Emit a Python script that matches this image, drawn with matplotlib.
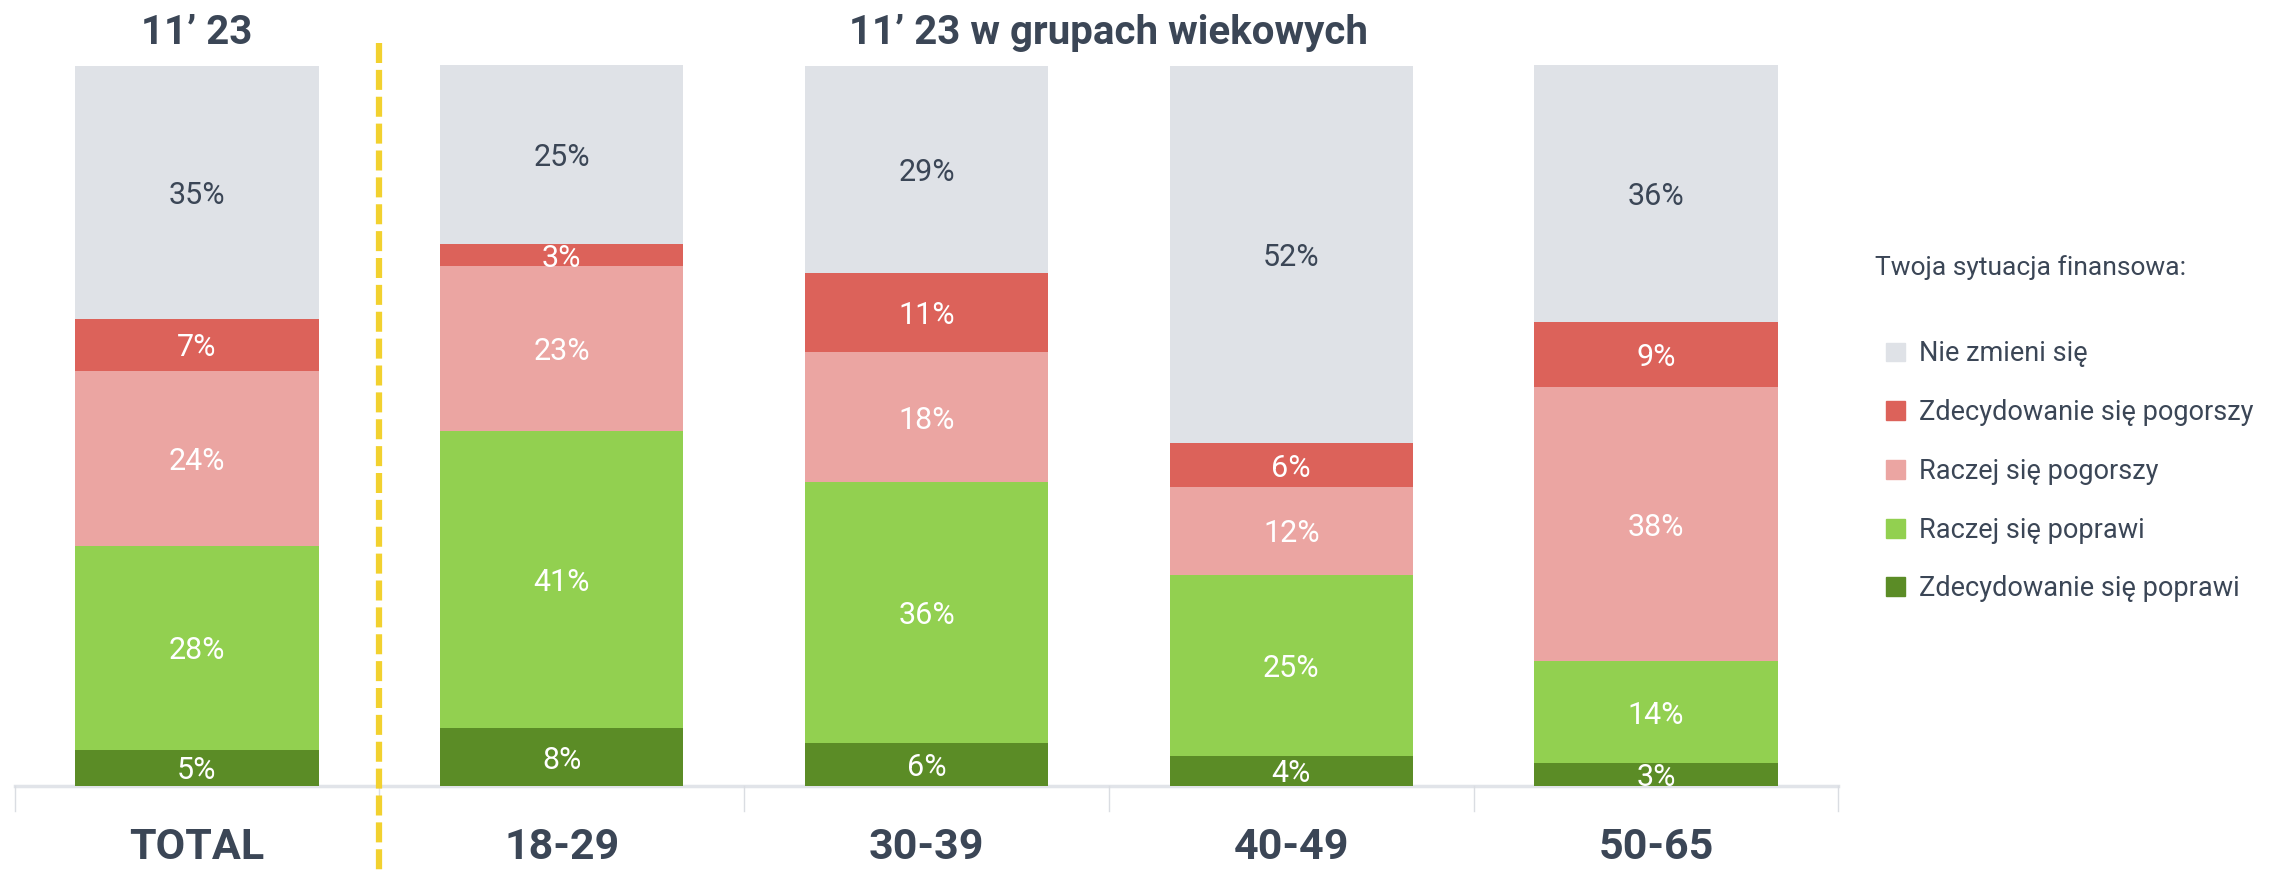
import matplotlib.pyplot as plt
import numpy as np
from matplotlib.patches import Patch

plt.rcParams['font.family'] = ['Roboto', 'DejaVu Sans']

# dane (w %)
kategorie = ['TOTAL', '18-29', '30-39', '40-49', '50-65']
zdec_poprawi = [5.0, 8.0, 6.0, 4.2, 3.2]
raczej_poprawi = [28.3, 41.2, 36.1, 25.1, 14.1]
raczej_pogorszy = [24.3, 22.9, 18.1, 12.2, 38.0]
zdec_pogorszy = [7.2, 3.0, 11.0, 6.0, 9.0]
nie_zmieni = [35.1, 24.9, 28.7, 52.4, 35.7]

serie = [zdec_poprawi, raczej_poprawi, raczej_pogorszy, zdec_pogorszy, nie_zmieni]
nazwy = ['Zdecydowanie się poprawi', 'Raczej się poprawi', 'Raczej się pogorszy',
         'Zdecydowanie się pogorszy', 'Nie zmieni się']
kolory = ['#5B8C26', '#92D050', '#EBA5A2', '#DC625A', '#DFE2E7']
kolory_tekstu = ['white', 'white', 'white', 'white', '#3B4656']

ciemny = '#3B4656'

fig = plt.figure(figsize=(22.7, 8.73), dpi=100)
ax = fig.add_axes([0.0064, 0.0997, 0.8035, 0.826])

x = np.arange(len(kategorie))
dol = np.zeros(len(kategorie))
for vals, kol, kt, nazwa in zip(serie, kolory, kolory_tekstu, nazwy):
    bars = ax.bar(x, vals, width=0.667, bottom=dol, color=kol, label=nazwa, zorder=2)
    for rect, v, b in zip(bars, vals, dol):
        ax.text(rect.get_x() + rect.get_width() / 2, b + v / 2, '%d%%' % round(v),
                ha='center', va='center_baseline', fontsize=22, color=kt, zorder=3)
    dol = dol + np.array(vals)

ax.set_xlim(-0.5, len(kategorie) - 0.5)
ax.set_ylim(0, 100)
ax.axis('off')

# oś pozioma i znaczniki
ax.plot([-0.5, len(kategorie) - 0.5], [0, 0], color='#E1E4E9', lw=2.5, zorder=1, clip_on=False)
for g in np.arange(-0.5, len(kategorie), 1.0):
    ax.plot([g, g], [0, -3.5], color='#DADDE2', lw=1, clip_on=False, zorder=1)

# żółta linia przerywana
ax.plot([0.5, 0.5], [103, -12.5], color='#F2D12F', lw=4.5, ls=(0, (3.2, 1.1)), clip_on=False, zorder=4)

# podpisy kategorii
for xi, k in zip(x, kategorie):
    ax.text(xi, -8.6, k, ha='center', va='center', fontsize=31, fontweight='bold', color=ciemny)

# tytuły
ax.text(0, 104.4, '11’ 23', ha='center', va='center', fontsize=29, fontweight='bold', color=ciemny)
ax.text(2.5, 104.4, '11’ 23 w grupach wiekowych', ha='center', va='center', fontsize=29,
        fontweight='bold', color=ciemny)

# legenda
fig.text(0.826, 0.693, 'Twoja sytuacja finansowa:', ha='left', va='center', fontsize=19,
         fontweight='normal', color=ciemny)
uchwyty = [Patch(color=k) for k in kolory][::-1]
fig.legend(uchwyty, nazwy[::-1], loc='upper left', bbox_to_anchor=(0.831, 0.610), frameon=False,
           borderpad=0, borderaxespad=0, fontsize=19.5, handlelength=0.7, handleheight=0.7,
           handletextpad=0.5, labelspacing=1.17, labelcolor=ciemny)

plt.savefig('out.png', dpi=100)
